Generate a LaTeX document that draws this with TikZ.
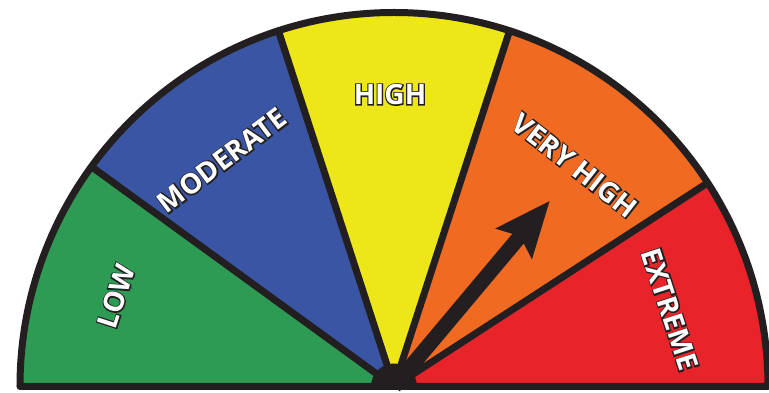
\documentclass[tikz,border=0pt]{standalone}
\usepackage{fontspec}
\setmainfont{Open Sans}
\definecolor{lowgreen}{HTML}{2E9B55}
\definecolor{modblue}{HTML}{3A55A4}
\definecolor{highyellow}{HTML}{EDE619}
\definecolor{vhorange}{HTML}{F06A22}
\definecolor{exred}{HTML}{E8232A}
\definecolor{ink}{HTML}{231F20}
\newcommand\outlined[1]{\rlap{\textcolor{ink}{\special{pdf:literal direct 2 Tr 2.4 w}#1\special{pdf:literal direct 0 Tr}}}#1}
\begin{document}
\begin{tikzpicture}[x=1pt,y=1pt,
  lbl/.style={font=\fontsize{28}{28}\selectfont\bfseries, text=white, inner sep=0pt},
  rim/.style={draw=ink, line width=7pt, line join=round}]
\useasboundingbox (-394,-6.5) rectangle (375,386.5);
\def\R{374}
% sectors
\fill[lowgreen]   (0,0) -- (180:\R) arc (180:144:\R) -- cycle;
\fill[modblue]    (0,0) -- (144:\R) arc (144:108:\R) -- cycle;
\fill[highyellow] (0,0) -- (108:\R) arc (108:72:\R) -- cycle;
\fill[vhorange]   (0,0) -- (72:\R) arc (72:33:\R) -- cycle;
\fill[exred]      (0,0) -- (33:\R) arc (33:0:\R) -- cycle;
% dividers
\foreach \a in {33,72,108,144} \draw[rim] (0,0) -- (\a:\R);
% outline
\draw[rim] (-\R,0) arc (180:0:\R) -- cycle;
% labels
\node[lbl, rotate=72]  (low)  at (-278,90)  {\outlined{LOW}};
\node[lbl, rotate=37]  (mod)  at (-172,226) {\outlined{MODERATE}};
\node[lbl]             (high) at (-4,292)   {\outlined{HIGH}};
\node[lbl, rotate=-38] (vh)   at (181,221)  {\outlined{VERY HIGH}};
\node[lbl, rotate=-72] (ext)  at (276,77)   {\outlined{EXTREME}};
% arrow
\fill[ink, rotate=50] (0,-7.5) -- (193,-7.5) -- (186,-24) -- (242,0) -- (186,24) -- (193,7.5) -- (0,7.5) -- cycle;
% hub
\fill[ink] (-23,0) arc (180:0:23) -- cycle;
\end{tikzpicture}
\end{document}
